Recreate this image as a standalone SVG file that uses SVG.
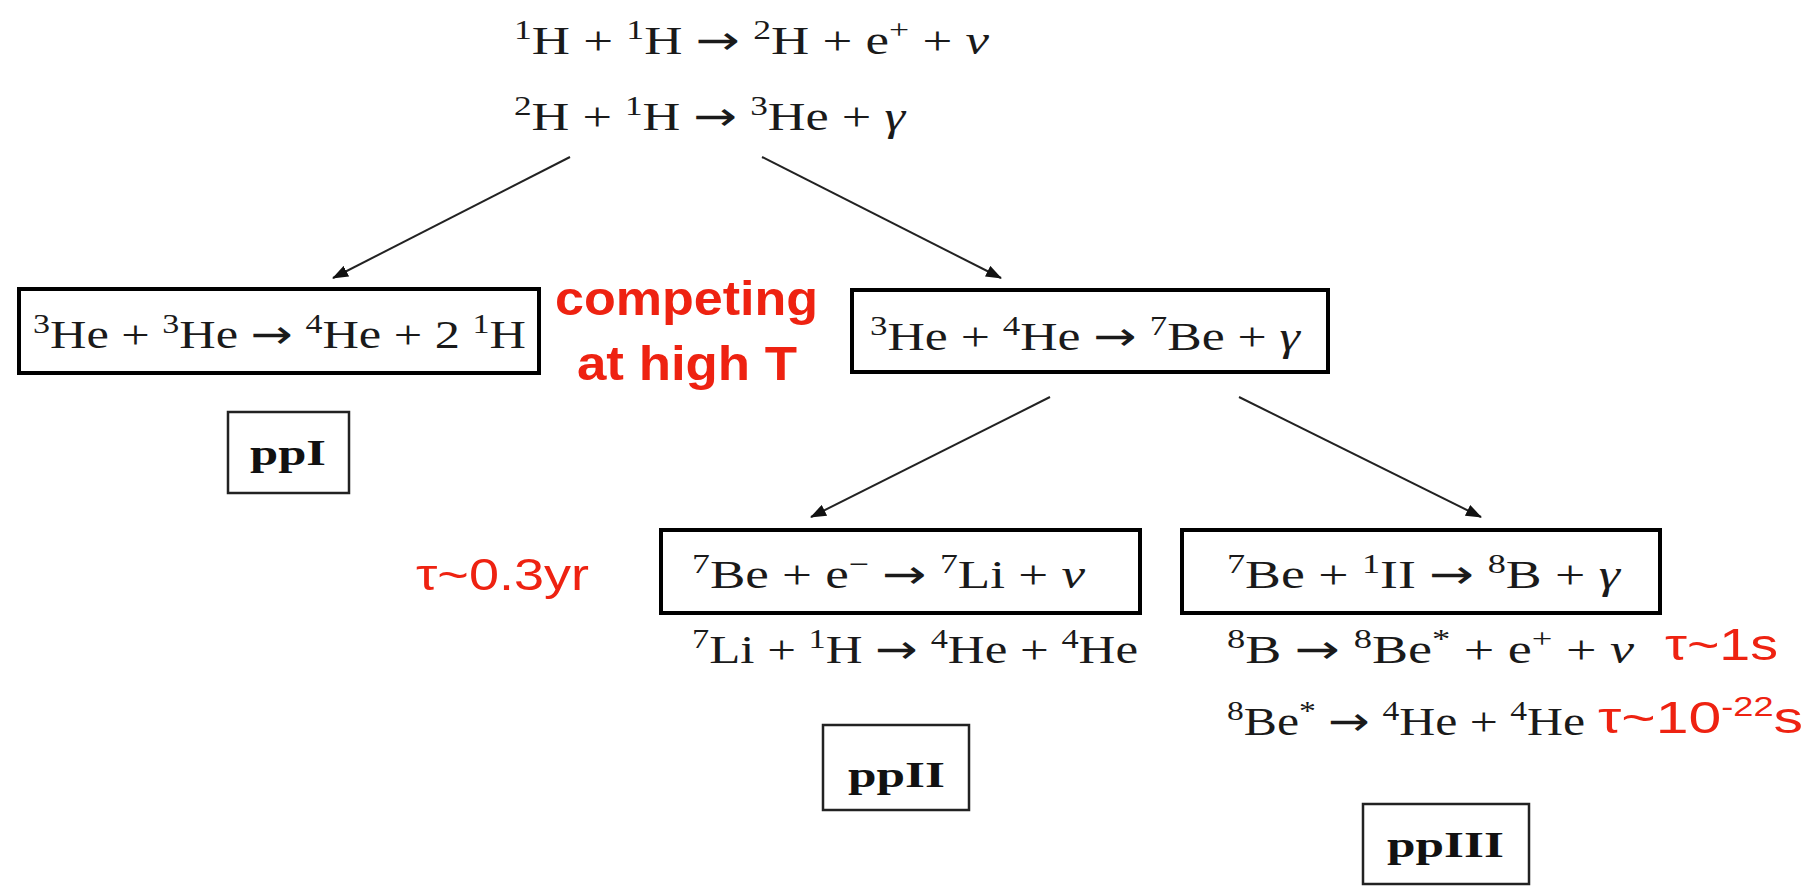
<svg xmlns="http://www.w3.org/2000/svg" width="1814" height="886" viewBox="0 0 1814 886">
<style>
  .eq { font-family: "Liberation Serif", "DejaVu Serif", serif; font-size: 40px; fill: #1a1a1a; }
  .s { font-size: 27px; }
  .it { font-style: italic; }
  .ar { font-family: "Noto Sans", "DejaVu Sans", sans-serif; font-size: 40px; }
  .box { fill: none; stroke: #000; stroke-width: 4; }
  .lbl { fill: none; stroke: #222; stroke-width: 2.5; }
  .pp { font-family: "Liberation Serif", "DejaVu Serif", serif; font-size: 35px; font-weight: bold; fill: #111; }
  .red { font-family: "Liberation Sans", Arial, sans-serif; fill: #ee2211; }
  .conn { stroke: #222; stroke-width: 2; fill: none; marker-end: url(#ah); }
</style>
<defs>
  <marker id="ah" markerUnits="userSpaceOnUse" markerWidth="16" markerHeight="12" refX="15" refY="6" orient="auto">
    <path d="M0,0 L16,6 L0,12 z" fill="#111"/>
  </marker>
</defs>
<rect width="1814" height="886" fill="#fff"/>

<g id="connectors">
  <line class="conn" x1="570" y1="157" x2="333" y2="278"/>
  <line class="conn" x1="762" y1="157" x2="1001" y2="278"/>
  <line class="conn" x1="1050" y1="397" x2="811" y2="517"/>
  <line class="conn" x1="1239" y1="397" x2="1481" y2="517"/>
</g>

<g id="top-reactions">
  <text class="eq" x="514" y="54" textLength="475" lengthAdjust="spacingAndGlyphs"><tspan class="s" dy="-15">1</tspan><tspan dy="15">H + </tspan><tspan class="s" dy="-15">1</tspan><tspan dy="15">H <tspan class="ar">→</tspan> </tspan><tspan class="s" dy="-15">2</tspan><tspan dy="15">H + e</tspan><tspan class="s" dy="-15">+</tspan><tspan dy="15"> + </tspan><tspan class="it">ν</tspan></text>
  <text class="eq" x="514" y="130" textLength="391" lengthAdjust="spacingAndGlyphs"><tspan class="s" dy="-15">2</tspan><tspan dy="15">H + </tspan><tspan class="s" dy="-15">1</tspan><tspan dy="15">H <tspan class="ar">→</tspan> </tspan><tspan class="s" dy="-15">3</tspan><tspan dy="15">He + </tspan><tspan class="it">γ</tspan></text>
</g>

<g id="node-he3he3">
  <rect class="box" x="19" y="289" width="520" height="84"/>
  <text class="eq" x="33" y="348" textLength="493" lengthAdjust="spacingAndGlyphs"><tspan class="s" dy="-15">3</tspan><tspan dy="15">He + </tspan><tspan class="s" dy="-15">3</tspan><tspan dy="15">He <tspan class="ar">→</tspan> </tspan><tspan class="s" dy="-15">4</tspan><tspan dy="15">He + 2 </tspan><tspan class="s" dy="-15">1</tspan><tspan dy="15">H</tspan></text>
</g>

<g id="note-competing">
  <text class="red" x="555" y="315" font-size="48" font-weight="bold" textLength="263" lengthAdjust="spacingAndGlyphs">competing</text>
  <text class="red" x="577" y="380" font-size="48" font-weight="bold" textLength="220" lengthAdjust="spacingAndGlyphs">at high T</text>
</g>

<g id="node-he3he4">
  <rect class="box" x="852" y="290" width="476" height="82"/>
  <text class="eq" x="870" y="350" textLength="430" lengthAdjust="spacingAndGlyphs"><tspan class="s" dy="-15">3</tspan><tspan dy="15">He + </tspan><tspan class="s" dy="-15">4</tspan><tspan dy="15">He <tspan class="ar">→</tspan> </tspan><tspan class="s" dy="-15">7</tspan><tspan dy="15">Be + </tspan><tspan class="it">γ</tspan></text>
</g>

<g id="label-ppI">
  <rect class="lbl" x="228" y="412" width="121" height="81"/>
  <text class="pp" x="250" y="465" textLength="76" lengthAdjust="spacingAndGlyphs">ppI</text>
</g>

<g id="note-tau-03yr">
  <text class="red" x="416" y="590" font-size="44" textLength="173" lengthAdjust="spacingAndGlyphs">τ~0.3yr</text>
</g>

<g id="node-be7e">
  <rect class="box" x="661" y="530" width="479" height="83"/>
  <text class="eq" x="692" y="588" textLength="393" lengthAdjust="spacingAndGlyphs"><tspan class="s" dy="-15">7</tspan><tspan dy="15">Be + e</tspan><tspan class="s" dy="-15">−</tspan><tspan dy="15"> <tspan class="ar">→</tspan> </tspan><tspan class="s" dy="-15">7</tspan><tspan dy="15">Li + </tspan><tspan class="it">ν</tspan></text>
  <text class="eq" x="692" y="663" textLength="446" lengthAdjust="spacingAndGlyphs"><tspan class="s" dy="-15">7</tspan><tspan dy="15">Li + </tspan><tspan class="s" dy="-15">1</tspan><tspan dy="15">H <tspan class="ar">→</tspan> </tspan><tspan class="s" dy="-15">4</tspan><tspan dy="15">He + </tspan><tspan class="s" dy="-15">4</tspan><tspan dy="15">He</tspan></text>
</g>

<g id="node-be7p">
  <rect class="box" x="1182" y="530" width="478" height="83"/>
  <text class="eq" x="1227" y="588" textLength="393" lengthAdjust="spacingAndGlyphs"><tspan class="s" dy="-15">7</tspan><tspan dy="15">Be + </tspan><tspan class="s" dy="-15">1</tspan><tspan dy="15">II <tspan class="ar">→</tspan> </tspan><tspan class="s" dy="-15">8</tspan><tspan dy="15">B + </tspan><tspan class="it">γ</tspan></text>
  <text class="eq" x="1227" y="663" textLength="407" lengthAdjust="spacingAndGlyphs"><tspan class="s" dy="-15">8</tspan><tspan dy="15">B <tspan class="ar">→</tspan> </tspan><tspan class="s" dy="-15">8</tspan><tspan dy="15">Be</tspan><tspan class="s" dy="-15">*</tspan><tspan dy="15"> + e</tspan><tspan class="s" dy="-15">+</tspan><tspan dy="15"> + </tspan><tspan class="it">ν</tspan></text>
  <text class="eq" x="1227" y="735" textLength="358" lengthAdjust="spacingAndGlyphs"><tspan class="s" dy="-15">8</tspan><tspan dy="15">Be</tspan><tspan class="s" dy="-15">*</tspan><tspan dy="15"> <tspan class="ar">→</tspan> </tspan><tspan class="s" dy="-15">4</tspan><tspan dy="15">He + </tspan><tspan class="s" dy="-15">4</tspan><tspan dy="15">He</tspan></text>
</g>

<g id="note-tau-1s">
  <text class="red" x="1665" y="660" font-size="44" textLength="113" lengthAdjust="spacingAndGlyphs">τ~1s</text>
</g>

<g id="note-tau-1e-22s">
  <text class="red" x="1598" y="733" font-size="44" textLength="205" lengthAdjust="spacingAndGlyphs">τ~10<tspan font-size="27" dy="-17">-22</tspan><tspan dy="17">s</tspan></text>
</g>

<g id="label-ppII">
  <rect class="lbl" x="823" y="725" width="146" height="85"/>
  <text class="pp" x="848" y="787" textLength="97" lengthAdjust="spacingAndGlyphs">ppII</text>
</g>

<g id="label-ppIII">
  <rect class="lbl" x="1363" y="804" width="166" height="80"/>
  <text class="pp" x="1387" y="857" textLength="117" lengthAdjust="spacingAndGlyphs">ppIII</text>
</g>
</svg>
